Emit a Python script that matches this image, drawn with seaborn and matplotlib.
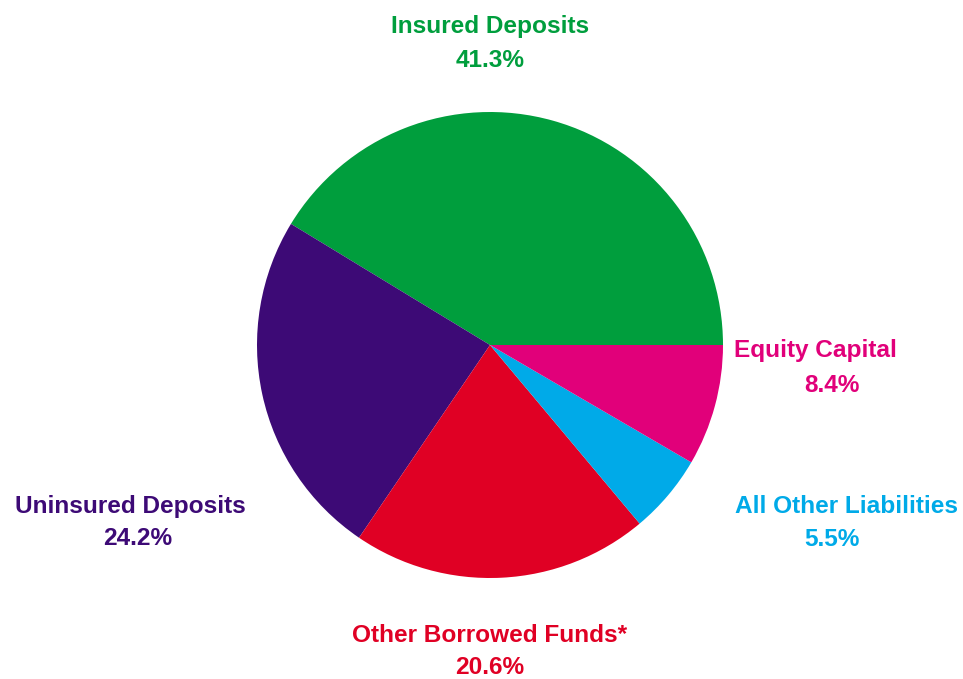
import matplotlib
matplotlib.use("Agg")
import matplotlib.pyplot as plt
import seaborn as sns

# Composition of liabilities and equity capital
categories = ["Insured Deposits", "Uninsured Deposits", "Other Borrowed Funds*",
              "All Other Liabilities", "Equity Capital"]
shares = [41.3, 24.2, 20.6, 5.5, 8.4]
colors = ["#009E3D", "#3D0A76", "#E00024", "#00AAE8", "#E1007A"]

# baseline anchor points for the name line and the percent line (pie radius = 1)
name_xy = [(0.0, 1.339), (-1.545, -0.721), (0.0, -1.275), (1.528, -0.721), (1.395, -0.0515)]
value_xy = [(0.0, 1.193), (-1.511, -0.858), (0.0, -1.412), (1.468, -0.863), (1.468, -0.2017)]

sns.set_theme(style="white")
plt.rcParams["font.family"] = ["Liberation Sans", "DejaVu Sans"]

fig = plt.figure(figsize=(9.63, 6.79), dpi=100)
ax = fig.add_axes([0, 0, 1, 1])

ax.pie(shares, colors=colors, startangle=0, counterclock=True,
       radius=1, center=(0, 0), wedgeprops=dict(linewidth=0))

style = dict(fontsize=17.6, fontweight="bold", ha="center", va="baseline")
for name, val, col, nxy, vxy in zip(categories, shares, colors, name_xy, value_xy):
    ax.text(*nxy, name, color=col, **style)
    ax.text(*vxy, f"{val:.1f}%", color=col, **style)

r = 233.0
ax.set_xlim(-490 / r, (963 - 490) / r)
ax.set_ylim(-(679 - 345) / r, 345 / r)
ax.set_aspect("equal")
ax.axis("off")

fig.savefig("out.png", dpi=100, facecolor="white")
